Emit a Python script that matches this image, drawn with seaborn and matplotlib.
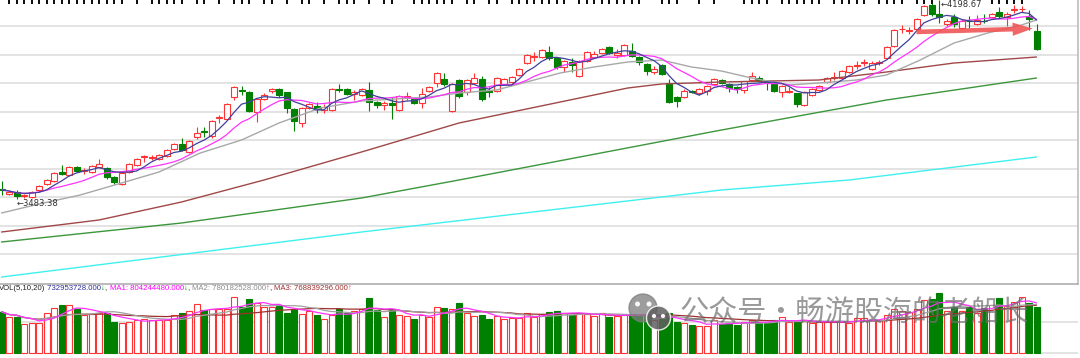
import numpy as np
import pandas as pd
import matplotlib.pyplot as plt
import seaborn as sns
from matplotlib.patches import Circle

sns.set_style("white")
plt.rcParams['font.family'] = ['DejaVu Sans', 'Noto Sans CJK SC']

# daily candles (index points)
open_ = [3519.6, 3499.8, 3508.8, 3492.6, 3490.8, 3516, 3537.6, 3548.4, 3580.8, 3570,
         3598.8, 3582.6, 3580.8, 3598.8, 3595.2, 3562.8, 3537.6, 3580.8, 3606, 3633,
         3629.4, 3627.6, 3638.4, 3663.6, 3681.6, 3652.8, 3706.8, 3726.6, 3710.4, 3773.4,
         3771.6, 3850.8, 3874.2, 3868.8, 3796.8, 3843.6, 3872.4, 3879.6, 3868.8, 3807.6,
         3757.2, 3811.2, 3818.4, 3804, 3804, 3877.8, 3879.6, 3861.6, 3858, 3876,
         3832.8, 3822, 3829.2, 3804, 3849, 3843.6, 3829.2, 3872.4, 3901.2, 3915.6,
         3800.4, 3912, 3868.8, 3901.2, 3915.6, 3870.6, 3872.4, 3897.6, 3904.8, 3930,
         3973.2, 3993, 3994.8, 4012.8, 3991.2, 3958.8, 3976.8, 3926.4, 3980.4, 3994.8,
         4009.2, 4030.8, 4002, 4002, 4016.4, 3994.8, 3969.6, 3940.8, 3966, 3901.2,
         3850.8, 3850.8, 3870.6, 3865.2, 3872.4, 3897.6, 3912, 3897.6, 3886.8, 3876,
         3912, 3919.2, 3906.6, 3897.6, 3868.8, 3867, 3865.2, 3822, 3858, 3876,
         3904.8, 3917.4, 3919.2, 3940.8, 3960.6, 3971.4, 3951.6, 3971.4, 3991.2, 4034.4,
         4093.8, 4086.6, 4095.6, 4146, 4182, 4149.6, 4113.6, 4138.8, 4099.2, 4126.2,
         4113.6, 4126.2, 4138.8, 4156.8, 4138.8, 4162.2, 4165.8, 4142.4, 4088.4]
close = [3516, 3508.8, 3494.4, 3496.2, 3508.8, 3530.4, 3552, 3577.2, 3573.6, 3598.8,
         3584.4, 3588, 3602.4, 3609.6, 3562.8, 3544.8, 3577.2, 3609.6, 3627.6, 3636.6,
         3634.8, 3642, 3660, 3681.6, 3660, 3692.4, 3721.2, 3723, 3764.4, 3777,
         3825.6, 3886.8, 3870.6, 3800.4, 3843.6, 3858, 3879.6, 3858, 3811.2, 3764.4,
         3811.2, 3825.6, 3807.6, 3814.8, 3879.6, 3874.2, 3861.6, 3868.8, 3879.6, 3832.8,
         3822, 3829.2, 3822, 3854.4, 3852.6, 3829.2, 3861.6, 3886.8, 3937.2, 3897.6,
         3897.6, 3854.4, 3912, 3919.2, 3843.6, 3867, 3919.2, 3915.6, 3922.8, 3951.6,
         4002, 3996.6, 4020, 3991.2, 3958.8, 3980.4, 3966, 3980.4, 4012.8, 4005.6,
         4023.6, 4009.2, 4009.2, 4038, 3998.4, 3976.8, 3944.4, 3951.6, 3933.6, 3832.8,
         3836.4, 3872.4, 3867, 3879.6, 3890.4, 3915.6, 3901.2, 3883.2, 3879.6, 3908.4,
         3926.4, 3908.4, 3903, 3872.4, 3890.4, 3870.6, 3825.6, 3868.8, 3879.6, 3890.4,
         3919.2, 3921, 3944.4, 3962.4, 3966, 3975, 3973.2, 3975, 4030.8, 4092,
         4097.4, 4090.2, 4131.6, 4178.4, 4149.6, 4138.8, 4124.4, 4113.6, 4124.4, 4122.6,
         4128, 4122.6, 4149.6, 4142.4, 4149.6, 4165.8, 4169.4, 4131.6, 4023.6]
high = [3548.4, 3512.4, 3516, 3501.6, 3512.4, 3534, 3555.6, 3580.8, 3606, 3602.4,
        3602.4, 3595.2, 3606, 3627.6, 3598.8, 3566.4, 3580.8, 3613.2, 3631.2, 3642,
        3642, 3645.6, 3663.6, 3685.2, 3703.2, 3696, 3742.8, 3742.8, 3768, 3786,
        3829.2, 3890.4, 3890.4, 3872.4, 3847.2, 3865.2, 3883.2, 3883.2, 3868.8, 3811.2,
        3814.8, 3829.2, 3832.8, 3825.6, 3883.2, 3897.6, 3883.2, 3876, 3883.2, 3904.8,
        3836.4, 3836.4, 3850.8, 3858, 3868.8, 3850.8, 3883.2, 3890.4, 3940.8, 3937.2,
        3901.2, 3915.6, 3915.6, 3937.2, 3926.4, 3886.8, 3922.8, 3919.2, 3926.4, 3955.2,
        4005.6, 4012.8, 4023.6, 4034.4, 3991.2, 3984, 3991.2, 3984, 4016.4, 4016.4,
        4027.2, 4034.4, 4023.6, 4041.6, 4045.2, 3998.4, 3973.2, 3962.4, 3969.6, 3915.6,
        3854.4, 3879.6, 3876, 3883.2, 3894, 3919.2, 3915.6, 3901.2, 3890.4, 3908.4,
        3940.8, 3926.4, 3908.4, 3901.2, 3894, 3886.8, 3865.2, 3872.4, 3883.2, 3894,
        3922.8, 3940.8, 3948, 3966, 3980.4, 3987.6, 3980.4, 3984, 4034.4, 4095.6,
        4110, 4102.8, 4135.2, 4182, 4189.2, 4198.67, 4131.6, 4149.6, 4128, 4142.4,
        4146, 4149.6, 4153.2, 4174.8, 4156.8, 4182, 4178.4, 4164, 4113.6]
low = [3498, 3498, 3483.38, 3486, 3489, 3512.4, 3534, 3544.8, 3570, 3566.4,
       3580.8, 3573.6, 3577.2, 3595.2, 3555.6, 3537.6, 3534, 3577.2, 3602.4, 3616.8,
       3624, 3624, 3634.8, 3660, 3656.4, 3649.2, 3699.6, 3706.8, 3703.2, 3757.2,
       3768, 3840, 3858, 3796.8, 3760.8, 3840, 3865.2, 3850.8, 3793.2, 3728.4,
       3742.8, 3807.6, 3793.2, 3793.2, 3800.4, 3868.8, 3858, 3840, 3854.4, 3800.4,
       3811.2, 3804, 3771.6, 3800.4, 3840, 3825.6, 3811.2, 3868.8, 3886.8, 3890.4,
       3796.8, 3847.2, 3858, 3897.6, 3836.4, 3850.8, 3868.8, 3894, 3901.2, 3926.4,
       3969.6, 3980.4, 3991.2, 3984, 3951.6, 3940.8, 3940.8, 3922.8, 3976.8, 3991.2,
       4005.6, 4005.6, 3991.2, 3998.4, 3994.8, 3966, 3930, 3933.6, 3930, 3831,
       3814.8, 3847.2, 3865.2, 3858, 3858, 3894, 3897.6, 3868.8, 3865.2, 3865.2,
       3908.4, 3904.8, 3876, 3868.8, 3850.8, 3865.2, 3814.8, 3818.4, 3854.4, 3872.4,
       3901.2, 3912, 3915.6, 3937.2, 3951.6, 3962.4, 3948, 3966, 3987.6, 4030.8,
       4081.2, 4077.6, 4092, 4142.4, 4142.4, 4117.2, 4106.4, 4102.8, 4095.6, 4099.2,
       4110, 4117.2, 4135.2, 4135.2, 4106.4, 4153.2, 4156.8, 4092, 4021.8]
# volume, millions
volume = [661, 571, 581, 464, 475, 485, 635, 725, 768, 768,
          699, 608, 619, 635, 645, 501, 475, 501, 528, 539,
          528, 528, 528, 608, 645, 672, 784, 688, 699, 699,
          699, 891, 741, 864, 795, 741, 741, 752, 645, 699,
          624, 677, 608, 539, 608, 699, 645, 672, 699, 875,
          688, 581, 699, 608, 592, 549, 608, 581, 731, 715,
          704, 795, 645, 592, 608, 539, 592, 539, 565, 565,
          635, 581, 619, 661, 672, 635, 608, 635, 619, 592,
          635, 581, 592, 608, 624, 592, 608, 528, 539, 635,
          501, 475, 448, 437, 437, 528, 464, 485, 448, 501,
          528, 501, 485, 528, 571, 501, 501, 528, 475, 501,
          501, 501, 501, 475, 565, 555, 528, 528, 608, 699,
          677, 661, 699, 848, 864, 955, 677, 741, 677, 741,
          645, 715, 768, 885, 752, 821, 901, 805, 732.95]

# longer moving averages (candle index, value)
ma20_idx = [0, 5, 10.5, 16, 21, 26.5, 32, 37, 42.5, 48, 57, 61, 66, 70, 74.5,
            79, 83.5, 88, 92, 96, 100, 105, 109, 114, 118, 122.5, 127, 131.5, 136, 138]
ma20_val = [3433.2, 3465.6, 3498, 3541.2, 3580.8, 3649.2, 3696, 3757.2, 3811.2, 3836.4,
            3850.8, 3865.2, 3876, 3904.8, 3937.2, 3958.8, 3976.8, 3984, 3958.8, 3944.4,
            3919.2, 3894, 3901.2, 3912, 3930, 3984, 4045.2, 4081.2, 4110, 4128]
ma60_idx = [0, 13, 24, 35, 48, 61, 74.5, 83.5, 88, 96, 109, 118, 127, 138]
ma60_val = [3364.8, 3408, 3472.8, 3552, 3652.8, 3757.2, 3832.8, 3883.2, 3897.6, 3904.8,
            3912, 3940.8, 3973.2, 3994.8]
ma120_idx = [0, 24, 48, 61, 96, 118, 138]
ma120_val = [3328.8, 3397.2, 3487.2, 3552, 3732, 3840, 3919.2]
ma250_idx = [0, 48, 96, 113, 138]
ma250_val = [3202.8, 3364.8, 3516, 3552, 3634.8]

flag_idx = list(range(1, 17)) + [18, 20, 21, 22, 23, 24, 26, 27, 29, 31, 32, 33, 35, 36, 38,
            40, 41, 43, 45, 46, 47, 49, 51, 52, 55, 56, 57, 58, 59, 60, 62, 63, 65, 66,
            68, 69, 70, 71, 72, 73, 74, 75, 77, 78, 79, 80, 81, 82, 83, 84, 85, 88, 89, 90,
            93, 95, 99, 100, 101, 102, 104, 105, 106, 107, 108, 109, 111, 112, 113, 114, 115,
            117, 118, 119, 120, 122, 123, 124, 132, 133, 134, 135, 136]

vol_legend = [("VOL(5,10,20)", "#202020"), (" 732953728.000", "#2c2c9c"), ("↓", "#008000"),
              (", ", "#202020"), ("MA1: 804244480.000", "#ff00ff"), ("↓", "#008000"),
              (", ", "#202020"), ("MA2: 780182528.000", "#8c8c8c"), ("↑", "#ff2020"),
              (", ", "#202020"), ("MA3: 768839296.000", "#a03030"), ("↑", "#ff2020")]

RED, GREEN = "#ff3333", "#008000"

df = pd.DataFrame({"open": open_, "high": high, "low": low, "close": close, "vol": volume})
df["i"] = np.arange(len(df))
df["ma5"] = df["close"].rolling(5, min_periods=1).mean()
df["ma10"] = df["close"].rolling(10, min_periods=1).mean()
df["vma5"] = df["vol"].rolling(5, min_periods=1).mean()
df["vma10"] = df["vol"].rolling(10, min_periods=1).mean()
df["vma20"] = df["vol"].rolling(20, min_periods=1).mean()
up = (df["close"] >= df["open"]).values
col = np.where(up, RED, GREEN)
face = np.where(up, "white", GREEN)

W, H = 1080, 358
fig = plt.figure(figsize=(W / 100, H / 100), dpi=100)
ax = fig.add_axes([0, 74 / H, 1078 / W, 284 / H])
axv = fig.add_axes([0, 0, 1078 / W, 73 / H])

# price panel
ax.vlines(df["i"], df["low"], df["high"], colors=col, lw=0.8, zorder=2)
body_lo = np.minimum(df["open"], df["close"])
body_h = np.maximum((df["close"] - df["open"]).abs(), 1.2)
ax.bar(df["i"], body_h, bottom=body_lo, width=0.8, color=face, edgecolor=col, lw=0.8, zorder=3)

sns.lineplot(x=ma250_idx, y=ma250_val, ax=ax, color="#40f0f0", lw=1, zorder=4)
sns.lineplot(x=ma120_idx, y=ma120_val, ax=ax, color="#3c963c", lw=1, zorder=4)
sns.lineplot(x=ma60_idx, y=ma60_val, ax=ax, color="#a04848", lw=1, zorder=4)
sns.lineplot(x=ma20_idx, y=ma20_val, ax=ax, color="#a8a8a8", lw=1, zorder=4)
sns.lineplot(data=df, x="i", y="ma10", ax=ax, color="#ff33ff", lw=0.9, zorder=4)
sns.lineplot(data=df, x="i", y="ma5", ax=ax, color="#40409a", lw=0.9, zorder=4)

ax.scatter(flag_idx, [4197.8] * len(flag_idx), s=3, marker="s", color="#111111", lw=0, zorder=5)
ax.scatter(flag_idx, [4190.6] * len(flag_idx), s=3, marker="s", color="#111111", lw=0, zorder=5)

lo_i, hi_i = df["low"].idxmin(), df["high"].idxmax()
ax.text(lo_i + 0.05, df["low"].min(), "←" + f"{df['low'].min():.2f}", fontsize=6,
        color="#303030", ha="left", va="top", zorder=6)
ax.text(hi_i + 0.2, 4199, "←" + f"{df['high'].max():.2f}", fontsize=6,
        color="#303030", ha="left", va="top", zorder=6)

ax.annotate("", xy=(137.5, 4097), xytext=(122, 4085),
            arrowprops=dict(arrowstyle="simple,head_length=1.45,head_width=0.95,tail_width=0.33",
                            color="#f05555", alpha=0.9, lw=0, shrinkA=0, shrinkB=0,
                            mutation_scale=10), zorder=7)

ax.set_xlim(-0.2, 143.53)
ax.set_ylim(4200 - 3.6 * 284, 4200)
ax.set_yticks(np.arange(3285.6, 4150, 102.6))
ax.set_xticks([])
ax.grid(axis="y", color="#dedede", lw=1.2)
ax.tick_params(left=False, labelleft=False)
ax.set(xlabel=None, ylabel=None)
for s in ["top", "left"]:
    ax.spines[s].set_visible(False)
ax.spines["bottom"].set_color("#b4b4b4")
ax.spines["bottom"].set_linewidth(1.3)
ax.spines["right"].set_color("#bcbcbc")
ax.spines["right"].set_linewidth(1.2)

# volume panel
axv.bar(df["i"], df["vol"], width=0.8, color=face, edgecolor=col, lw=0.8, zorder=3)
sns.lineplot(data=df, x="i", y="vma20", ax=axv, color="#a03030", lw=0.9, zorder=4)
sns.lineplot(data=df, x="i", y="vma10", ax=axv, color="#a0a0a0", lw=0.9, zorder=4)
sns.lineplot(data=df, x="i", y="vma5", ax=axv, color="#ff33ff", lw=0.9, zorder=4)
axv.set_xlim(-0.2, 143.53)
axv.set_ylim(-80, 1088)
axv.set_yticks([0, 496])
axv.set_xticks([])
axv.grid(axis="y", color="#dedede", lw=1.2, zorder=0)
axv.tick_params(left=False, labelleft=False)
axv.set(xlabel=None, ylabel=None)
for s in axv.spines.values():
    s.set_visible(False)

# volume legend line, pieces laid out one after another
leg_family = ["Liberation Sans", "DejaVu Sans"]
renderer = fig.canvas.get_renderer()


def place_legend(fs, draw=True):
    x = -1.0
    made = []
    for txt, c in vol_legend:
        t = fig.text(x / W, (H - 288.5) / H, txt, fontsize=fs, color=c, family=leg_family,
                     ha="left", va="center")
        x += t.get_window_extent(renderer).width
        made.append(t)
    if not draw:
        for t in made:
            t.remove()
    return x


span = place_legend(6, draw=False)
place_legend(6 * 356 / span)

# watermark
tr = fig.dpi_scale_trans
fig.patches.append(Circle((6.43, 0.50), 0.14, transform=tr, color="#7d7d7d", alpha=0.75))
fig.patches.append(Circle((6.585, 0.40), 0.12, transform=tr, facecolor="#5f5f5f",
                          edgecolor="white", lw=1, alpha=0.85))
for ex, ey, r in [(6.375, 0.54, 0.018), (6.49, 0.54, 0.018), (6.54, 0.42, 0.014), (6.63, 0.42, 0.014)]:
    fig.patches.append(Circle((ex, ey), r, transform=tr, color="white", alpha=0.9))
fig.text(680 / W, (H - 314) / H, "公众号·畅游股海的老船长", fontsize=21, color="#6e6e6e",
         alpha=0.7, family=["Noto Sans CJK SC"], ha="left", va="center")

fig.savefig("out.png", dpi=100, facecolor="white")
